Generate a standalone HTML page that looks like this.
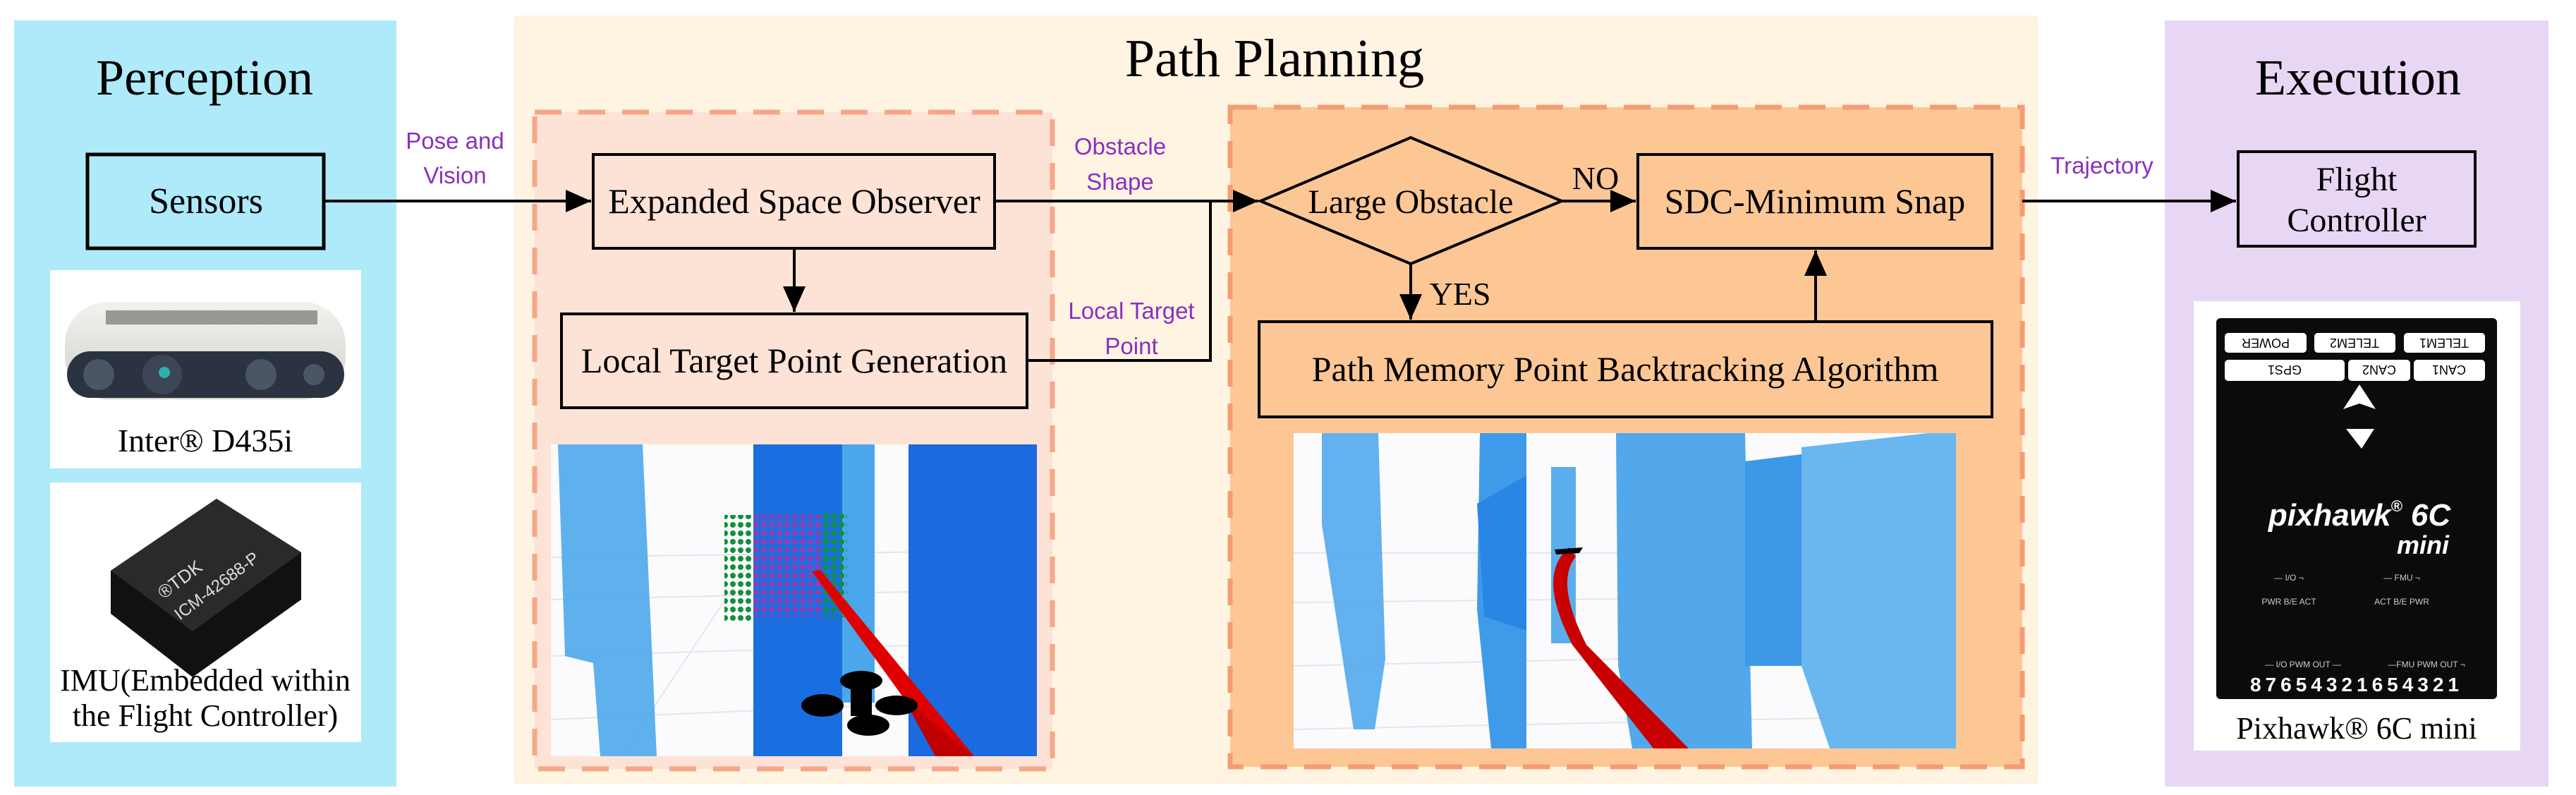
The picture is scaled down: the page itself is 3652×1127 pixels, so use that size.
<!DOCTYPE html>
<html><head><meta charset="utf-8"><style>
html,body{margin:0;padding:0;background:#fff;}
svg{display:block;}
.s{font-family:"Liberation Serif",serif;}
.a{font-family:"Liberation Sans",sans-serif;}
.p{font-family:"Liberation Sans",sans-serif;fill:#8a2fc0;font-size:33px;}
</style></head><body>
<svg width="3652" height="1127" viewBox="0 0 3652 1127" xmlns="http://www.w3.org/2000/svg">
<defs>
<marker id="ar" markerWidth="10" markerHeight="10" refX="9" refY="5" orient="auto" markerUnits="strokeWidth"><path d="M0,1 L9,5 L0,9 Z" fill="#000"/></marker>
<linearGradient id="cam" x1="0" y1="0" x2="0" y2="1"><stop offset="0" stop-color="#f2f2ee"/><stop offset="1" stop-color="#cfd0cc"/></linearGradient>
</defs>
<rect width="3652" height="1127" fill="#fff"/>
<rect x="20" y="29" width="542" height="1086" fill="#aeeaf9"/>
<rect x="729" y="22" width="2160" height="1090" fill="#fff3e1"/>
<rect x="3069" y="29" width="544" height="1086" fill="#e7d6f4"/>
<g class="s">
<text class="s" x="290" y="134" font-size="72" text-anchor="middle">Perception</text>
<text class="s" x="1807" y="108" font-size="76" text-anchor="middle">Path Planning</text>
<text class="s" x="3343" y="134" font-size="72" text-anchor="middle">Execution</text>
</g>

<rect x="758" y="159" width="734" height="931" fill="#fde2d6" stroke="#f5a889" stroke-width="7" stroke-dasharray="38,24"/>
<rect x="1744" y="152" width="1123" height="935" fill="#fdc795" stroke="#f59c72" stroke-width="7" stroke-dasharray="38,24"/>

<rect x="124" y="219" width="335" height="133" fill="#aeeaf9" stroke="#000" stroke-width="5"/>
<text class="s" x="292" y="302" font-size="52" text-anchor="middle">Sensors</text>
<rect x="71" y="383" width="441" height="281" fill="#fff"/>
<rect x="92" y="428" width="398" height="138" rx="60" fill="url(#cam)"/>
<rect x="95" y="498" width="393" height="66" rx="33" fill="#2b3340"/>
<g fill="#444">
<rect x="150" y="440" width="300" height="20" opacity=".5"/>
</g>
<circle cx="140" cy="531" r="22" fill="#4a5566"/><circle cx="230" cy="531" r="28" fill="#3c4656"/><circle cx="233" cy="528" r="8" fill="#2fb0a8"/><circle cx="370" cy="531" r="22" fill="#4a5566"/><circle cx="445" cy="531" r="15" fill="#4a5566"/>
<text class="s" x="291" y="640" font-size="46" text-anchor="middle">Inter® D435i</text>
<rect x="71" y="684" width="441" height="368" fill="#fff"/>
<polygon points="307,707 427,783 427,850 273,960 157,870 157,809" fill="#111"/>
<polygon points="307,707 427,783 273,895 157,809" fill="#2a2a2a"/>
<text class="a" x="0" y="0" font-size="26" fill="#ddd" transform="translate(232,850) rotate(-37)">®TDK</text>
<text class="a" x="0" y="0" font-size="24" fill="#ddd" transform="translate(255,880) rotate(-37)">ICM-42688-P</text>
<text class="s" x="291" y="979" font-size="44" text-anchor="middle">IMU(Embedded within</text>
<text class="s" x="291" y="1029" font-size="44" text-anchor="middle">the Flight Controller)</text>

<rect x="841" y="219" width="569" height="133" fill="#fde2d6" stroke="#000" stroke-width="4"/>
<text class="s" x="1126" y="302" font-size="50" text-anchor="middle">Expanded Space Observer</text>
<rect x="796" y="445" width="660" height="133" fill="#fde2d6" stroke="#000" stroke-width="4"/>
<text class="s" x="1126" y="528" font-size="50" text-anchor="middle">Local Target Point Generation</text>

<polygon points="1787,285 2000,195 2214,285 2000,374" fill="#fdc795" stroke="#000" stroke-width="4"/>
<text class="s" x="2000" y="302" font-size="48" text-anchor="middle">Large Obstacle</text>
<rect x="2322" y="219" width="502" height="133" fill="#fdc795" stroke="#000" stroke-width="4"/>
<text class="s" x="2573" y="302" font-size="50" text-anchor="middle">SDC-Minimum Snap</text>
<rect x="1785" y="456" width="1039" height="135" fill="#fdc795" stroke="#000" stroke-width="4"/>
<text class="s" x="2304" y="540" font-size="50" text-anchor="middle">Path Memory Point Backtracking Algorithm</text>
<text class="s" x="2262" y="268" font-size="46" text-anchor="middle">NO</text>
<text class="s" x="2070" y="432" font-size="46" text-anchor="middle">YES</text>

<rect x="3173" y="215" width="336" height="134" fill="#e7d6f4" stroke="#000" stroke-width="4"/>
<text class="s" x="3341" y="270" font-size="48" text-anchor="middle">Flight</text>
<text class="s" x="3341" y="328" font-size="48" text-anchor="middle">Controller</text>

<g stroke="#000" stroke-width="4" fill="none">
<line x1="459" y1="285" x2="838" y2="285" marker-end="url(#ar)"/>
<line x1="1126" y1="352" x2="1126" y2="442" marker-end="url(#ar)"/>
<line x1="1410" y1="285" x2="1784" y2="285" marker-end="url(#ar)"/>
<polyline points="1456,511 1716,511 1716,285"/>
<line x1="2214" y1="285" x2="2319" y2="285" marker-end="url(#ar)"/>
<line x1="2000" y1="374" x2="2000" y2="453" marker-end="url(#ar)"/>
<line x1="2574" y1="456" x2="2574" y2="355" marker-end="url(#ar)"/>
<line x1="2867" y1="285" x2="3170" y2="285" marker-end="url(#ar)"/>
</g>
<text class="p" x="645" y="211" text-anchor="middle">Pose and</text>
<text class="p" x="645" y="260" text-anchor="middle">Vision</text>
<text class="p" x="1588" y="219" text-anchor="middle">Obstacle</text>
<text class="p" x="1588" y="269" text-anchor="middle">Shape</text>
<text class="p" x="1604" y="452" text-anchor="middle">Local Target</text>
<text class="p" x="1604" y="502" text-anchor="middle">Point</text>
<text class="p" x="2980" y="246" text-anchor="middle">Trajectory</text>

<svg x="781" y="630" width="689" height="442" viewBox="0 0 689 442">
<rect width="689" height="442" fill="#fbfbfd"/>
<g stroke="#e4e6ea" stroke-width="2"><line x1="0" y1="160" x2="689" y2="150"/><line x1="0" y1="220" x2="689" y2="205"/><line x1="0" y1="300" x2="689" y2="280"/><line x1="0" y1="390" x2="689" y2="360"/><line x1="100" y1="442" x2="300" y2="140"/><line x1="300" y1="442" x2="400" y2="140"/></g>
<polygon points="10,0 130,0 150,442 70,442 60,310 20,300" fill="#4ea9ec" opacity=".9"/>
<rect x="287" y="0" width="126" height="442" fill="#1a6fe0"/>
<rect x="413" y="0" width="46" height="366" fill="#4aa7ec"/>
<rect x="507" y="0" width="182" height="442" fill="#1b6adf"/>
<pattern id="pg" width="11" height="12" patternUnits="userSpaceOnUse"><circle cx="5" cy="6" r="4" fill="#12903a"/></pattern>
<pattern id="pp" width="11" height="12" patternUnits="userSpaceOnUse"><circle cx="5" cy="6" r="4" fill="#9a3bb0"/></pattern>
<rect x="246" y="100" width="38" height="150" fill="url(#pg)"/>
<rect x="284" y="100" width="100" height="145" fill="url(#pp)"/>
<rect x="384" y="95" width="36" height="150" fill="url(#pg)"/>
<polygon points="370,180 382,178 600,442 560,442" fill="#e00000"/>
<polygon points="500,360 600,442 545,442" fill="#c00000"/>
<ellipse cx="440" cy="335" rx="30" ry="14" fill="#000"/>
<ellipse cx="385" cy="370" rx="30" ry="16" fill="#000"/>
<ellipse cx="490" cy="370" rx="30" ry="14" fill="#000"/>
<ellipse cx="450" cy="398" rx="30" ry="15" fill="#000"/>
<rect x="425" y="345" width="30" height="40" fill="#000"/>
</svg>

<svg x="1834" y="614" width="939" height="447" viewBox="0 0 939 447">
<rect width="939" height="447" fill="#fbfbfd"/>
<g stroke="#e4e6ea" stroke-width="2"><line x1="0" y1="170" x2="939" y2="170"/><line x1="0" y1="240" x2="939" y2="230"/><line x1="0" y1="330" x2="939" y2="310"/><line x1="0" y1="420" x2="939" y2="400"/></g>
<polygon points="40,0 120,0 130,320 115,420 85,420 40,130" fill="#52a8ec" opacity=".9"/>
<polygon points="264,0 330,0 330,447 280,447 260,250" fill="#3f9be9"/>
<polygon points="260,100 330,60 330,280 270,260" fill="#2a86e4"/>
<rect x="365" y="48" width="35" height="250" fill="#5aaeed"/>
<polygon points="457,0 640,0 650,447 480,447 460,330" fill="#4aa3eb" opacity=".95"/>
<polygon points="640,40 720,30 720,330 640,330" fill="#3d98e8"/>
<polygon points="720,20 900,0 939,0 939,447 760,447 720,330" fill="#5aaeed" opacity=".9"/>
<path d="M390,162 C360,190 360,230 395,300 L510,447 L560,447 L415,300 C385,240 380,200 400,175 Z" fill="#c80000"/>
<path d="M370,165 L410,162 L405,170 L372,172 Z" fill="#000"/>
</svg>

<rect x="3110" y="427" width="463" height="637" fill="#fff"/>
<rect x="3142" y="451" width="398" height="540" rx="6" fill="#0b0b0b"/>
<g fill="#fff">
<rect x="3154" y="472" width="116" height="28" rx="5"/><rect x="3281" y="472" width="115" height="28" rx="5"/><rect x="3408" y="472" width="115" height="28" rx="5"/>
<rect x="3154" y="510" width="170" height="30" rx="5"/><rect x="3329" y="510" width="88" height="30" rx="5"/><rect x="3422" y="510" width="101" height="30" rx="5"/>
</g>
<g class="a" font-size="18" fill="#000" text-anchor="middle">
<text class="a" transform="translate(3212,480) rotate(180)">POWER</text>
<text class="a" transform="translate(3338,480) rotate(180)">TELEM2</text>
<text class="a" transform="translate(3465,480) rotate(180)">TELEM1</text>
<text class="a" transform="translate(3239,518) rotate(180)">GPS1</text>
<text class="a" transform="translate(3373,518) rotate(180)">CAN2</text>
<text class="a" transform="translate(3472,518) rotate(180)">CAN1</text>
</g>
<polygon points="3345,545 3368,580 3345,572 3322,580" fill="#fff"/>
<polygon points="3326,608 3366,608 3348,636" fill="#fff"/>
<text class="a" x="3345" y="745" font-style="italic" font-weight="bold" font-size="44" fill="#fff" text-anchor="middle">pixhawk<tspan font-size="22" dy="-20">®</tspan><tspan dy="20"> 6C</tspan></text>
<text class="a" x="3472" y="785" font-style="italic" font-weight="bold" font-size="36" fill="#fff" text-anchor="end">mini</text>
<g font-size="12" fill="#ccc" text-anchor="middle">
<text class="a" x="3245" y="823">— I/O ¬</text><text class="a" x="3405" y="823">— FMU ¬</text>
<text class="a" x="3245" y="857">PWR B/E ACT</text><text class="a" x="3405" y="857">ACT B/E PWR</text>
<text class="a" x="3265" y="946">— I/O PWM OUT —</text><text class="a" x="3440" y="946">—FMU PWM OUT ¬</text>
</g>
<text class="a" x="3341" y="980" font-weight="bold" font-size="28" fill="#fff" text-anchor="middle" letter-spacing="6">87654321654321</text>
<text class="s" x="3341" y="1047" font-size="44" text-anchor="middle">Pixhawk® 6C mini</text>
</svg>
</body></html>
